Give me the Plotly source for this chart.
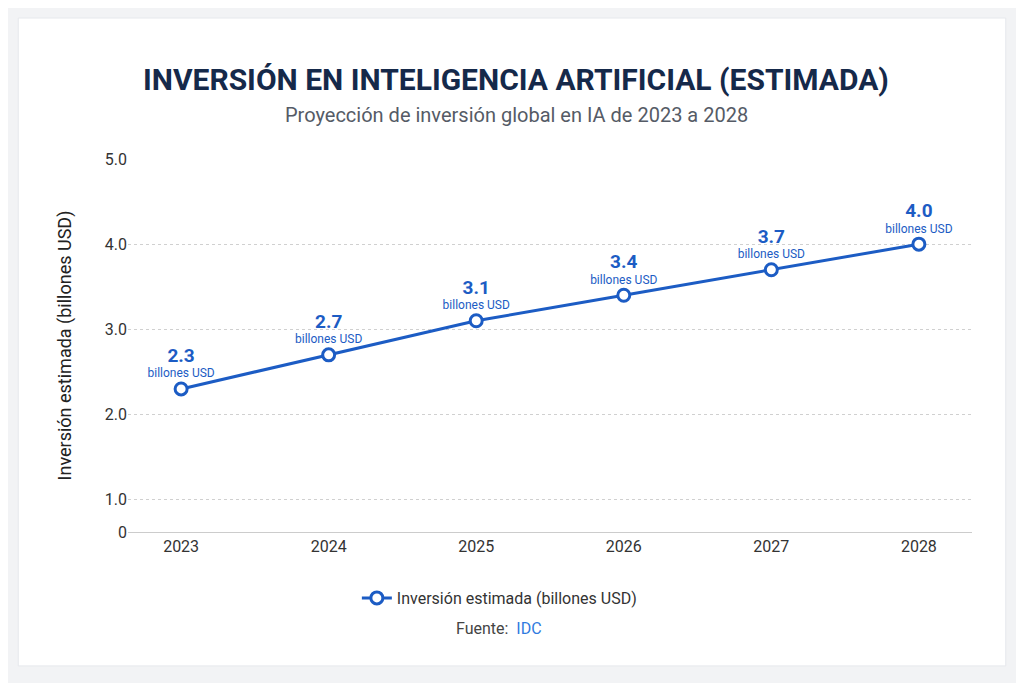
import plotly.graph_objects as go

years = ["2023", "2024", "2025", "2026", "2027", "2028"]
inversion = [2.3, 2.7, 3.1, 3.4, 3.7, 4.0]
y_ticks = [0.62, 1, 2, 3, 4, 5]
y_tick_labels = ["0", "1.0", "2.0", "3.0", "4.0", "5.0"]

blue = "#1c5cc4"
navy = "#15294a"

labels = ["<b style='font-size:19px'>%.1f</b><br><span style='font-size:12px'>billones USD</span>" % v
          for v in inversion]

fig = go.Figure()
fig.add_trace(go.Scatter(
    x=years, y=inversion,
    mode="lines+markers+text",
    name="Inversión estimada (billones USD)",
    line=dict(color=blue, width=3),
    marker=dict(size=12, color="white", line=dict(color=blue, width=3)),
    text=labels,
    textposition="top center",
    textfont=dict(color=blue, family="Roboto", size=12),
    cliponaxis=False,
))

fig.add_shape(type="rect", xref="paper", yref="paper",
              x0=-0.130, x1=1.040, y0=-0.359, y1=1.378,
              fillcolor="white", line=dict(color="#e6e8ec", width=1), layer="below")

fig.add_annotation(text="<b>INVERSIÓN EN INTELIGENCIA ARTIFICIAL (ESTIMADA)</b>",
                   xref="paper", yref="paper", x=0.46, y=1.265, showarrow=False,
                   font=dict(size=30, color=navy, family="Roboto"))
fig.add_annotation(text="Proyección de inversión global en IA de 2023 a 2028",
                   xref="paper", yref="paper", x=0.46, y=1.155, showarrow=False,
                   font=dict(size=20, color="#555b66", family="Roboto"))
fig.add_annotation(text="Fuente:  <span style='color:#2f7be0'>IDC</span>",
                   xref="paper", yref="paper", x=0.44, y=-0.29, showarrow=False,
                   font=dict(size=16, color="#444", family="Roboto"))

fig.update_layout(
    width=1024, height=683,
    paper_bgcolor="#f2f3f5", plot_bgcolor="white",
    margin=dict(l=120, r=60, t=151, b=159),
    font=dict(family="Roboto", color="#222"),
    showlegend=True,
    legend=dict(orientation="h", x=0.44, xanchor="center", y=-0.177, yanchor="middle",
                font=dict(size=16, color="#333"), bgcolor="rgba(0,0,0,0)"),
    xaxis=dict(type="category", showgrid=False, showline=True, linecolor="#cccccc",
               tickfont=dict(size=16, color="#333"), ticks="", range=[-0.36, 5.36]),
    yaxis=dict(range=[0.62, 5], tickvals=y_ticks, ticktext=y_tick_labels,
               showgrid=True, gridcolor="#d0d0d0", griddash="dot", zeroline=False,
               tickfont=dict(size=16, color="#333"), ticks="", showline=False,
               title=dict(text="Inversión estimada (billones USD)", font=dict(size=18, color="#222"),
                          standoff=28)),
)

fig.write_html("out.html")
